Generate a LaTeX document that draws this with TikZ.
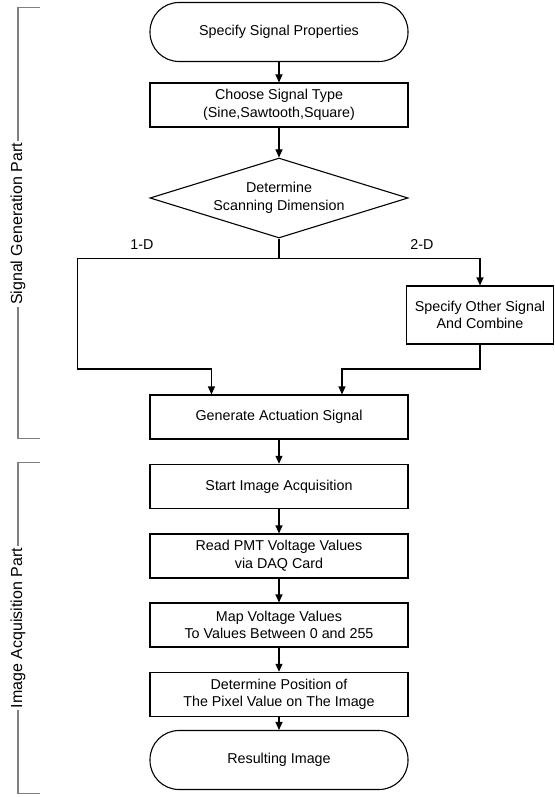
\documentclass[tikz,border=0pt]{standalone}
\usepackage{fontspec}
\setmainfont{Liberation Sans}
\usetikzlibrary{shapes.geometric,arrows.meta}

\begin{document}
\begin{tikzpicture}[x=1pt, y=1pt,
      every node/.style={font=\fontsize{14.3}{17.7}\selectfont},
      proc/.style={draw, line width=1.1pt, minimum width=258, minimum height=44,
                   align=center, inner sep=0},
      term/.style={proc, minimum height=59, rounded corners=29},
      dec/.style={draw, diamond, aspect=3.2, line width=1.1pt, minimum width=258,
                  minimum height=80, inner sep=0, align=center},
      arr/.style={line width=1.1pt, -{Triangle[length=8pt,width=7pt]}},
      part/.style={draw=gray, line width=1.3pt},
      parttxt/.style={fill=white, rotate=90, inner sep=2pt,
                      font=\fontsize{16}{19}\selectfont}]

      \useasboundingbox (0,0) rectangle (554,-797);

      %Signal generation
      \node [term] (props) at (279,-32) {Specify Signal Properties};
      \node [proc] (type) at (279,-105) {Choose Signal Type\\(Sine,Sawtooth,Square)};
      \node [dec] (dim) at (279,-198) {Determine\\Scanning Dimension};
      \node [proc, minimum width=147, minimum height=58] (other) at (480,-315)
            {Specify Other Signal\\And Combine};
      \node [proc] (gen) at (279,-417) {Generate Actuation Signal};
      \draw [arr] (props) -- (type);
      \draw [arr] (type) -- (dim);

      %1-D / 2-D branches
      \coordinate (split) at (279,-258.5);
      \coordinate (join1) at (77.5,-369);
      \coordinate (join2) at (342,-369);
      \node (oned) at (142,-245) {1-D};
      \node (twod) at (422,-245) {2-D};
      \draw [line width=1.1pt] (dim.south) -- (split);
      \draw [arr] (split) -| (other.north);
      \draw [arr] (split) -| (join1) -| ([xshift=62]gen.north west);
      \draw [arr] (other.south) |- (join2) -- (join2 |- gen.north);

      %Image acquisition
      \node [proc] (acq) at (279,-486.3) {Start Image Acquisition};
      \node [proc] (read) at (279,-556) {Read PMT Voltage Values\\via DAQ Card};
      \node [proc] (map) at (279,-625) {Map Voltage Values\\To Values Between 0 and 255};
      \node [proc] (pos) at (279,-694.3) {Determine Position of\\The Pixel Value on The Image};
      \node [term] (img) at (279,-760) {Resulting Image};
      \foreach \a/\b in {gen/acq, acq/read, read/map, map/pos, pos/img} {
        \draw [arr] (\a) -- (\b);
      }

      %Part brackets
      \draw [part] (40,-7.5) -- (18,-7.5) -- (18,-438.5) -- (40,-438.5);
      \node [parttxt] (genpart) at (18,-224) {Signal Generation Part};
      \draw [part] (40,-462.5) -- (18,-462.5) -- (18,-793.5) -- (40,-793.5);
      \node [parttxt] (acqpart) at (18,-628) {Image Acquisition Part};
\end{tikzpicture}
\end{document}
